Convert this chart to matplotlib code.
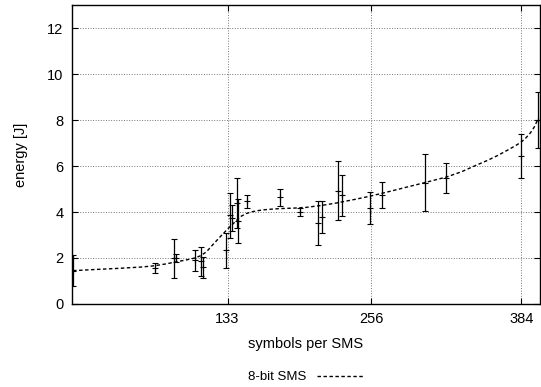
import matplotlib.pyplot as plt

plt.rcParams['font.family'] = ['Liberation Sans', 'DejaVu Sans']

# measured points: symbols per SMS, mean energy, error
sym = [1, 71, 87, 89, 105, 110, 112, 132, 135, 137, 141, 142, 150, 178, 195,
       210, 214, 227, 231, 255, 265, 302, 320, 384, 398]
energy = [1.45, 1.56, 1.98, 2.0, 1.9, 1.85, 1.6, 2.33, 3.85, 3.75, 4.4, 3.6,
          4.47, 4.64, 4.0, 3.52, 3.79, 4.93, 4.72, 4.18, 4.73, 5.27, 5.49,
          6.43, 8.0]
err = [0.67, 0.22, 0.86, 0.18, 0.45, 0.62, 0.45, 0.75, 0.98, 0.57, 1.1, 0.95,
       0.28, 0.37, 0.16, 0.96, 0.71, 1.27, 0.91, 0.71, 0.57, 1.24, 0.66,
       0.96, 1.22]

# fitted curve (8-bit SMS)
fit_x = [1, 20, 40, 60, 70, 80, 90, 100, 105, 110, 115, 119, 123, 127, 131,
         135, 139, 144, 149, 153, 159, 165, 172, 179, 190, 200, 214, 227,
         241, 255, 272, 286, 301, 320, 333, 344, 355, 364, 372, 379, 384,
         388, 392, 395, 398]
fit_y = [1.45, 1.5, 1.55, 1.61, 1.66, 1.74, 1.84, 1.94, 2.0, 2.1, 2.27, 2.5,
         2.72, 2.94, 3.15, 3.36, 3.55, 3.8, 3.93, 4.0, 4.06, 4.1, 4.13, 4.15,
         4.17, 4.2, 4.29, 4.4, 4.54, 4.69, 4.9, 5.08, 5.27, 5.52, 5.75, 6.0,
         6.24, 6.46, 6.68, 6.88, 7.04, 7.22, 7.45, 7.68, 8.0]

fig = plt.figure(figsize=(5.41, 3.87), dpi=100)
ax = fig.add_axes([0.133, 0.2145, 0.865, 0.7725])

ax.errorbar(sym, energy, yerr=err, fmt='+', color='black', ms=4, mew=0.8,
            elinewidth=0.9, capsize=2.5, capthick=0.9)
ax.plot(fit_x, fit_y, color='black', lw=1, ls=(0, (2.5, 1.8)), label='8-bit SMS')

ax.set_xlim(0, 400)
ax.set_ylim(0, 13)
ax.set_xticks([133, 256, 384])
ax.set_yticks(range(0, 13, 2))
ax.grid(True, color='#777777', ls=':', lw=0.7)
ax.tick_params(direction='in', top=True, right=True, labelsize=10.5,
               length=4, pad=6)
for s in ax.spines.values():
    s.set_linewidth(1)

ax.set_xlabel('symbols per SMS', fontsize=10.5, labelpad=8)
ax.set_ylabel('energy [J]', fontsize=10.5, labelpad=14)
ax.legend(loc='center', bbox_to_anchor=(0.5, -0.245), frameon=False,
          markerfirst=False, fontsize=9.5, handlelength=3.5)

fig.savefig('out.png', dpi=100)
